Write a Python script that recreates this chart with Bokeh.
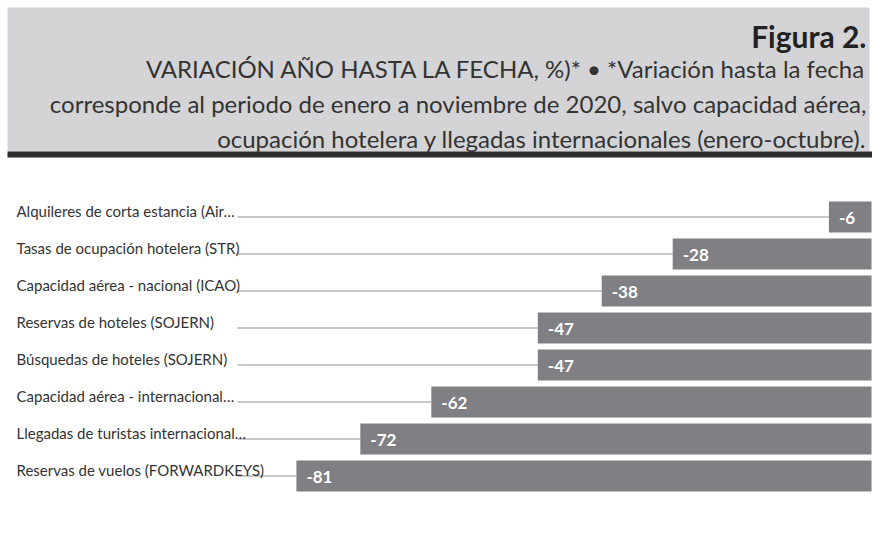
from bokeh.plotting import figure
from bokeh.models import Range1d, ColumnDataSource
from bokeh.core.properties import value
from bokeh.embed import file_html
from bokeh.resources import INLINE

# ---- data ----
labels = [
    "Alquileres de corta estancia (Air…",
    "Tasas de ocupación hotelera (STR)",
    "Capacidad aérea - nacional (ICAO)",
    "Reservas de hoteles (SOJERN)",
    "Búsquedas de hoteles (SOJERN)",
    "Capacidad aérea - internacional…",
    "Llegadas de turistas internacional…",
    "Reservas de vuelos (FORWARDKEYS)",
]
values = [-6, -28, -38, -47, -47, -62, -72, -81]
value_labels = [str(v) for v in values]

title_text = "Figura 2."
subtitle_lines = [
    "VARIACIÓN AÑO HASTA LA FECHA, %)* • *Variación hasta la fecha",
    "corresponde al periodo de enero a noviembre de 2020, salvo capacidad aérea,",
    "ocupación hotelera y llegadas internacionales (enero-octubre).",
]

# ---- geometry (pixel helpers) ----
W, H = 872, 534
PX_PER_UNIT = 7.1
ZERO_PX = 871
ROW0_PX = 216.5
ROW_STEP = 37.0

def dx(px):
    return (px - ZERO_PX) / PX_PER_UNIT

def dy(py):
    return (py - ROW0_PX) / ROW_STEP

p = figure(width=W, height=H, output_backend="svg", toolbar_location=None,
           x_range=Range1d(dx(0), dx(W)), y_range=Range1d(dy(H), dy(0)),
           min_border=0)
p.axis.visible = False
p.grid.visible = False
p.outline_line_color = None
p.background_fill_color = "white"
p.border_fill_color = "white"

FONT = "Lato"
TXT = "#333333"

# ---- header ----
p.quad(left=[dx(7)], right=[dx(869)], top=[dy(7)], bottom=[dy(151)],
       fill_color="#d4d4d6", line_color=None)
p.quad(left=[dx(7)], right=[dx(W)], top=[dy(151)], bottom=[dy(157)],
       fill_color="#2b2b2b", line_color=None)

p.text(x=[dx(866)], y=[dy(35)], text=[title_text], text_font=value(FONT),
       text_font_style="bold", text_font_size="30px", text_color="#222222",
       text_align="right", text_baseline="alphabetic")
sub_y = [dy(68), dy(103), dy(138)]
p.text(x=[dx(866)] * 3, y=sub_y, text=subtitle_lines, text_font=value(FONT),
       text_font_size="24px", text_color=TXT, text_align="right",
       text_baseline="alphabetic")

# ---- bars ----
rows = list(range(len(values)))
src = ColumnDataSource(dict(y=rows, v=values, zero=[0] * len(values),
                            lab=labels, vl=value_labels,
                            lx=[dx(237)] * len(values),
                            tx=[dx(16)] * len(values),
                            ty=[r - 6 / ROW_STEP for r in rows]))

p.segment(x0="lx", x1="v", y0="y", y1="y", source=src,
          line_color="#c8c8c8", line_width=2)
p.hbar(y="y", left="v", right="zero", height=31 / ROW_STEP, source=src,
       fill_color="#808084", line_color=None)
p.text(x="tx", y="ty", text="lab", source=src, text_font=value(FONT),
       text_font_size="15px", text_color=TXT, text_align="left",
       text_baseline="alphabetic")
p.text(x="v", y="y", text="vl", source=src, x_offset=10, y_offset=1,
       text_font=value(FONT), text_font_style="bold", text_font_size="17px",
       text_color="white", text_align="left", text_baseline="middle")

open("out.html", "w").write(file_html(p, INLINE))
